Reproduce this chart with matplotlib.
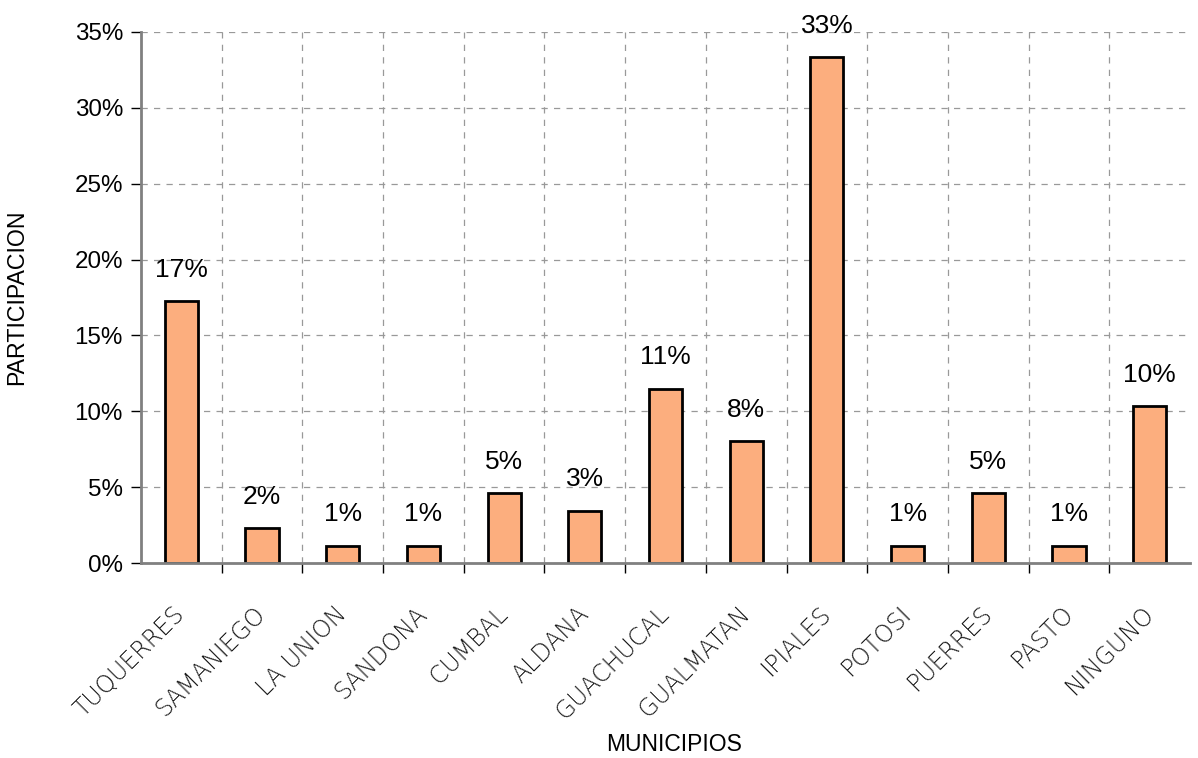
import matplotlib
matplotlib.use("Agg")
import matplotlib.pyplot as plt
from matplotlib.ticker import FuncFormatter, MultipleLocator

categories = ["TUQUERRES", "SAMANIEGO", "LA UNION", "SANDONA", "CUMBAL", "ALDANA",
              "GUACHUCAL", "GUALMATAN", "IPIALES", "POTOSI", "PUERRES", "PASTO", "NINGUNO"]
values = [17.24, 2.30, 1.15, 1.15, 4.60, 3.45, 11.49, 8.05, 33.33, 1.15, 4.60, 1.15, 10.34]
labels = ["17%", "2%", "1%", "1%", "5%", "3%", "11%", "8%", "33%", "1%", "5%", "1%", "10%"]

plt.rcParams['font.family'] = ['Liberation Sans', 'DejaVu Sans']

fig = plt.figure(figsize=(11.98, 7.58), dpi=100)
ax = fig.add_axes([141/1198, 1 - 563/758, (1190 - 141)/1198, (563 - 32)/758])

x = list(range(len(categories)))
bars = ax.bar(x, values, width=0.41, color='#FCAE7E', edgecolor='black', linewidth=2, zorder=3)

for xi, v, lab in zip(x, values, labels):
    ax.annotate(lab, (xi, v), xytext=(0, 17.5), textcoords='offset points',
                ha='center', va='baseline', fontsize=19)

ax.set_xlim(-0.5, len(categories) - 0.5)
ax.set_ylim(0, 35)
ax.yaxis.set_major_locator(MultipleLocator(5))
ax.yaxis.set_major_formatter(FuncFormatter(lambda v, p: f"{v:.0f}%"))

# x ticks at category boundaries for grid/ticks, labels at centers
ax.set_xticks([i + 0.5 for i in range(len(categories) - 1)])
ax.set_xticklabels([])
ax.set_xticks(x, minor=True)
ax.set_xticklabels(categories, minor=True, rotation=45, ha='right', va='center',
                   rotation_mode='anchor', fontsize=17,
                   family=['DejaVu Sans'], fontweight='ultralight', color='#1a1a1a')
ax.tick_params(axis='x', which='minor', length=0, pad=34)
ax.tick_params(axis='x', which='major', length=7, width=1, color='black', direction='out')
ax.tick_params(axis='y', which='major', length=7, width=1, color='black', labelsize=17.4, pad=6)

ax.grid(True, which='major', axis='both', linestyle=(0, (5, 5)), color='#999999', linewidth=0.9, zorder=0)

for s in ['top', 'right']:
    ax.spines[s].set_visible(False)
for s in ['left', 'bottom']:
    ax.spines[s].set_color('#808080')
    ax.spines[s].set_linewidth(2)
    ax.spines[s].set_zorder(4)

ax.set_ylabel("PARTICIPACION", fontsize=16.7)
ax.set_xlabel("MUNICIPIOS", fontsize=16.5, va='baseline')
ax.yaxis.set_label_coords(-113/1049, 0.5)
ax.xaxis.set_label_coords((674 - 141)/1049, -(751 - 563)/531)

fig.savefig("out.png", dpi=100)
